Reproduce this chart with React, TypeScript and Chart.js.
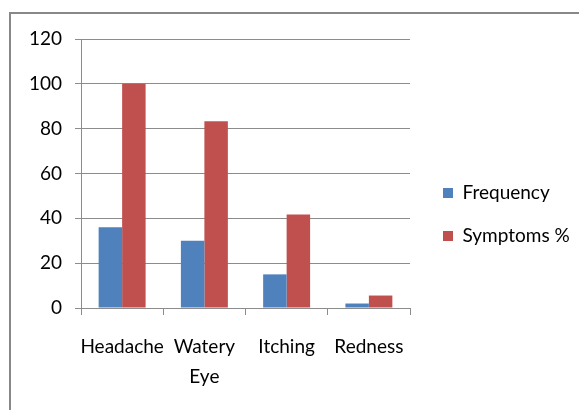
import React, { useEffect, useRef } from "react";
import { Chart, registerables } from "chart.js";

Chart.register(...registerables);

const categories: (string | string[])[] = ["Headache", ["Watery", "Eye"], "Itching", "Redness"];
const frequency = [36, 30, 15, 2];
const symptomsPct = [100, 83.33, 41.67, 5.56];
const yTicks = [0, 20, 40, 60, 80, 100, 120];
const seriesNames = ["Frequency", "Symptoms %"];

const FONT = "Lato, 'DejaVu Sans Condensed', sans-serif";
const FS = 19;
const GRID = "#8c8c8c";
const LEG_PAD = 24;
const LEG_W = 100;

export default function App() {
  const ref = useRef<HTMLCanvasElement>(null);
  useEffect(() => {
    let chart: any = null;
    let cancelled = false;
    const build = () => {
      if (cancelled || !ref.current) return;
      const legendShift = {
        id: "legendShift",
        afterLayout(c: any) {
          const lg = c.legend;
          if (lg) {
            lg.left = 443 - LEG_PAD;
            lg.right = 579;
            lg.width = lg.right - lg.left;
          }
        },
      };
      chart = new Chart(ref.current, {
        type: "bar",
        data: {
          labels: categories as any,
          datasets: [
            { label: seriesNames[0], data: frequency, backgroundColor: "#4F81BD", borderWidth: 0 },
            { label: seriesNames[1], data: symptomsPct, backgroundColor: "#C0504D", borderWidth: 0 },
          ],
        },
        options: {
          responsive: false,
          animation: false,
          maintainAspectRatio: false,
          layout: { padding: { top: 39, bottom: 20, left: 0, right: 579 - 410 - LEG_W } },
          datasets: { bar: { categoryPercentage: 0.571, barPercentage: 1 } },
          plugins: {
            tooltip: { enabled: false },
            legend: {
              position: "right",
              maxWidth: LEG_W,
              labels: {
                boxWidth: 10,
                boxHeight: 10,
                padding: LEG_PAD,
                color: "#000",
                font: { family: FONT, size: FS },
              },
            },
          },
          scales: {
            x: {
              grid: { display: true, drawOnChartArea: false, drawTicks: true, tickLength: 7, color: GRID, offset: true },
              border: { color: GRID, width: 1 },
              ticks: {
                color: "#000",
                padding: 17,
                maxRotation: 0,
                autoSkip: false,
                font: { family: FONT, size: FS, lineHeight: 30 / FS },
              },
              afterFit(scale: any) {
                scale.height = 82;
              },
            },
            y: {
              min: 0,
              max: 120,
              afterBuildTicks(scale: any) {
                scale.ticks = yTicks.map((v) => ({ value: v }));
              },
              grid: { color: GRID, tickLength: 6, lineWidth: 1 },
              border: { color: GRID, width: 1 },
              ticks: {
                color: "#000",
                padding: 13,
                font: { family: FONT, size: FS },
              },
              afterFit(scale: any) {
                scale.width = 81;
              },
            },
          },
        },
        plugins: [legendShift],
      } as any);
    };
    const fonts: any = (document as any).fonts;
    if (fonts && fonts.load) {
      fonts.load(`${FS}px Lato`).then(build, build);
    } else {
      build();
    }
    return () => {
      cancelled = true;
      if (chart) chart.destroy();
    };
  }, []);

  return (
    <div style={{ position: "fixed", left: 0, top: 0, width: 579, height: 410, background: "#fff", overflow: "hidden" }}>
      <div
        style={{
          position: "absolute",
          left: 9,
          top: 12,
          width: 700,
          height: 600,
          border: "2px solid #888",
          boxSizing: "border-box",
        }}
      />
      <canvas ref={ref} width={579} height={410} style={{ position: "absolute", left: 0, top: 0, width: 579, height: 410 }} />
    </div>
  );
}
